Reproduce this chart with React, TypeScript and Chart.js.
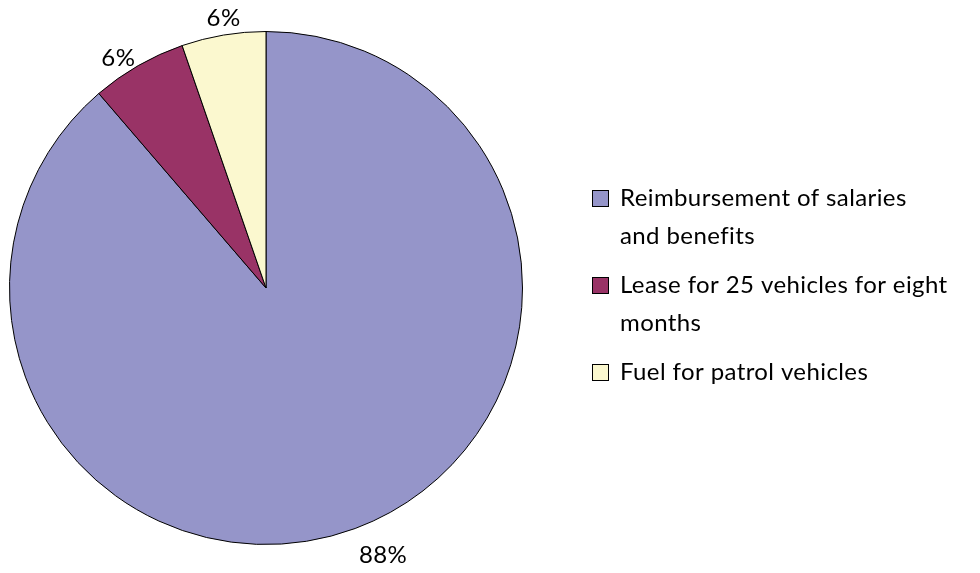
import React, { useEffect, useRef } from "react";
import { Chart, registerables } from "chart.js";

Chart.register(...registerables);

const categories = [
  "Reimbursement of salaries and benefits",
  "Lease for 25 vehicles for eight months",
  "Fuel for patrol vehicles",
];
const values = [88.7, 6.0, 5.3];
const percentLabels = ["88%", "6%", "6%"];
const colors = ["#9595C9", "#993366", "#FBF8CF"];

const FONT = "Lato, 'Open Sans', sans-serif";

function wrap(ctx: CanvasRenderingContext2D, text: string, maxWidth: number): string[] {
  const words = text.split(" ");
  const lines: string[] = [];
  let cur = "";
  for (const w of words) {
    const test = cur ? cur + " " + w : w;
    if (ctx.measureText(test).width > maxWidth && cur) {
      lines.push(cur);
      cur = w;
    } else cur = test;
  }
  if (cur) lines.push(cur);
  return lines;
}

const outLabels = {
  id: "outLabels",
  afterDatasetsDraw(chart: any, _args: any, opts: any) {
    const ctx = chart.ctx as CanvasRenderingContext2D;
    const meta = chart.getDatasetMeta(0);
    ctx.save();
    ctx.font = `${opts.size}px ${FONT}`;
    (ctx as any).letterSpacing = opts.spacing;
    ctx.fillStyle = "#000";
    ctx.textAlign = "center";
    ctx.textBaseline = "middle";
    meta.data.forEach((arc: any, i: number) => {
      const p = arc.getProps(["x", "y", "startAngle", "endAngle", "outerRadius"], true);
      const mid = (p.startAngle + p.endAngle) / 2;
      const dx = Math.cos(mid);
      const dy = Math.sin(mid);
      const text = opts.labels[i];
      const w = ctx.measureText(text).width;
      const h = opts.size;
      const half = (w / 2) * Math.abs(dx) + (h / 2) * Math.abs(dy);
      const r = p.outerRadius + opts.gap + half;
      const n = opts.nudge[i] || [0, 0];
      ctx.fillText(text, p.x + dx * r + n[0], p.y + dy * r + n[1]);
    });
    ctx.restore();
  },
};

const sideLegend = {
  id: "sideLegend",
  afterDraw(chart: any, _args: any, opts: any) {
    const ctx = chart.ctx as CanvasRenderingContext2D;
    ctx.save();
    ctx.font = `${opts.size}px ${FONT}`;
    (ctx as any).letterSpacing = opts.spacing;
    ctx.textBaseline = "middle";
    ctx.textAlign = "left";
    let y = opts.y;
    opts.items.forEach((label: string, i: number) => {
      const lines = wrap(ctx, label, opts.maxWidth);
      ctx.fillStyle = opts.colors[i];
      ctx.strokeStyle = "#000";
      ctx.lineWidth = 1;
      const b = opts.box;
      ctx.fillRect(opts.x + 0.5, y - b / 2 + 0.5, b, b);
      ctx.strokeRect(opts.x + 0.5, y - b / 2 + 0.5, b, b);
      ctx.fillStyle = "#000";
      lines.forEach((ln, j) => {
        ctx.fillText(ln, opts.x + opts.textOffset, y + j * opts.lineHeight);
      });
      y += (lines.length - 1) * opts.lineHeight + opts.itemGap;
    });
    ctx.restore();
  },
};

export default function App() {
  const ref = useRef<HTMLCanvasElement>(null);
  useEffect(() => {
    if (!ref.current) return;
    const chart = new Chart(ref.current, {
      type: "pie",
      data: {
        labels: categories,
        datasets: [
          {
            data: values,
            backgroundColor: colors,
            borderColor: "#000",
            borderWidth: 1,
          },
        ],
      },
      options: {
        animation: false,
        responsive: false,
        layout: { padding: { left: 1, top: 23, bottom: 20, right: 449 } },
        plugins: {
          legend: { display: false },
          tooltip: { enabled: false },
          outLabels: {
            labels: percentLabels,
            size: 24,
            spacing: "0.4px",
            gap: 3,
            nudge: [[20, 6], [-9, 12], [3, 1]],
          },
          sideLegend: {
            items: categories,
            colors,
            x: 584,
            y: 190,
            box: 16,
            textOffset: 28,
            lineHeight: 38,
            itemGap: 49,
            size: 24,
            spacing: "0.4px",
            maxWidth: 329,
          },
        } as any,
      },
      plugins: [outLabels, sideLegend],
    });
    return () => chart.destroy();
  }, []);
  return <canvas ref={ref} width={964} height={557} style={{ display: "block" }} />;
}
